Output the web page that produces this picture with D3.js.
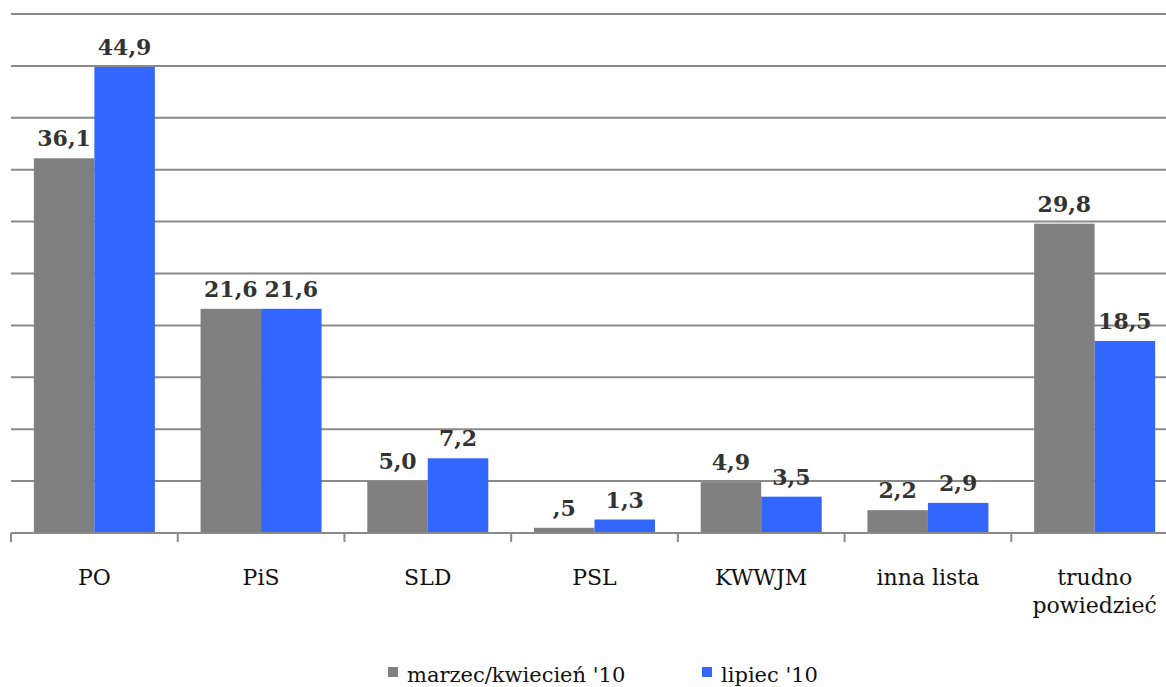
<!DOCTYPE html>
<meta charset="utf-8">
<script src="https://d3js.org/d3.v7.min.js"></script>
<style>
  body { margin: 0; background: #fff; font-family: "DejaVu Serif", Georgia, serif; }
</style>
<body>
<div id="viz"></div>
<script>
// data
const categories = ["PO", "PiS", "SLD", "PSL", "KWWJM", "inna lista", "trudno powiedzieć"];
const seriesNames = ["marzec/kwiecień '10", "lipiec '10"];
const marzec = [36.1, 21.6, 5.0, 0.5, 4.9, 2.2, 29.8];
const lipiec = [44.9, 21.6, 7.2, 1.3, 3.5, 2.9, 18.5];
const labelsMarzec = ["36,1", "21,6", "5,0", ",5", "4,9", "2,2", "29,8"];
const labelsLipiec = ["44,9", "21,6", "7,2", "1,3", "3,5", "2,9", "18,5"];
const colors = ["#808080", "#3366ff"];

const W = 1166, H = 687;
const svg = d3.select("#viz").append("svg")
  .attr("width", W).attr("height", H);

// x band for categories (plot runs a bit past the right edge)
const x = d3.scaleBand()
  .domain(categories)
  .range([11, 1178]);

const sub = d3.scaleBand()
  .domain([0, 1])
  .range([0, 121]);

const y = d3.scaleLinear()
  .domain([0, 50])
  .range([533, 14]);

// gridlines
svg.append("g")
  .selectAll("line")
  .data(d3.range(5, 55, 5))
  .join("line")
    .attr("x1", 11).attr("x2", W)
    .attr("y1", d => y(d)).attr("y2", d => y(d))
    .attr("stroke", "#8a8a8a")
    .attr("stroke-width", 2);

const series = [marzec, lipiec];
const labels = [labelsMarzec, labelsLipiec];

const groups = svg.append("g")
  .selectAll("g")
  .data(series)
  .join("g")
    .attr("fill", (d, i) => colors[i]);

groups.each(function(vals, si) {
  const g = d3.select(this);
  g.selectAll("rect")
    .data(vals)
    .join("rect")
      .attr("x", (d, i) => x(categories[i]) + (x.bandwidth() - 121) / 2 + sub(si))
      .attr("y", d => y(d))
      .attr("width", sub.bandwidth())
      .attr("height", d => y(0) - y(d));
  svg.append("g")
    .selectAll("text")
    .data(vals)
    .join("text")
      .attr("x", (d, i) => x(categories[i]) + (x.bandwidth() - 121) / 2 + sub(si) + sub.bandwidth() / 2)
      .attr("y", d => y(d) - 12)
      .attr("text-anchor", "middle")
      .attr("font-size", 22)
      .attr("font-weight", "bold")
      .attr("fill", "#333")
      .text((d, i) => labels[si][i]);
});

// x axis with ticks between categories
const axis = svg.append("g");
axis.append("line")
  .attr("x1", 11).attr("x2", W)
  .attr("y1", 533).attr("y2", 533)
  .attr("stroke", "#8a8a8a").attr("stroke-width", 2);
axis.selectAll("line.tick")
  .data(categories)
  .join("line")
    .attr("class", "tick")
    .attr("x1", d => x(d)).attr("x2", d => x(d))
    .attr("y1", 533).attr("y2", 542)
    .attr("stroke", "#8a8a8a").attr("stroke-width", 2);

axis.selectAll("text")
  .data(categories)
  .join("text")
    .attr("x", d => x(d) + x.bandwidth() / 2)
    .attr("y", 585)
    .attr("text-anchor", "middle")
    .attr("font-size", 22)
    .attr("fill", "#111")
    .each(function(d) {
      const t = d3.select(this);
      const parts = d === "trudno powiedzieć" ? ["trudno", "powiedzieć"] : [d];
      parts.forEach((p, k) => {
        t.append("tspan")
          .attr("x", x(d) + x.bandwidth() / 2)
          .attr("dy", k === 0 ? 0 : 28)
          .text(p);
      });
    });

// legend
const legendX = [388, 702];
const legend = svg.append("g")
  .selectAll("g")
  .data(seriesNames)
  .join("g")
    .attr("transform", (d, i) => `translate(${legendX[i]},667)`);
legend.append("rect")
  .attr("width", 10).attr("height", 10)
  .attr("fill", (d, i) => colors[i]);
legend.append("text")
  .attr("x", 19).attr("y", 15)
  .attr("font-size", 21)
  .attr("fill", "#111")
  .text(d => d);
</script>
</body>
